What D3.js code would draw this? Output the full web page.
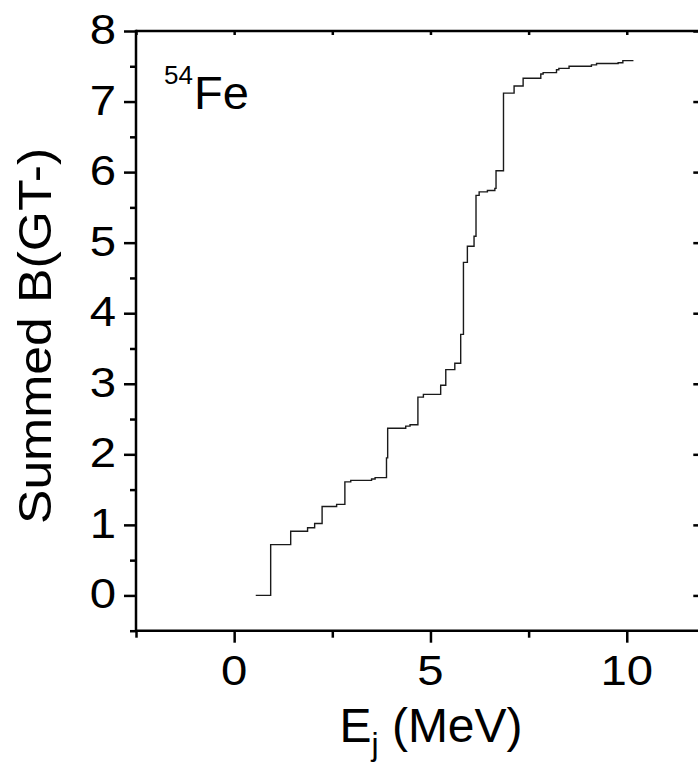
<!DOCTYPE html>
<html>
<head>
<meta charset="utf-8">
<script src="https://cdn.jsdelivr.net/npm/d3@7"></script>
<style>
  html, body { margin: 0; padding: 0; background: #fff; }
  svg { display: block; }
  text { font-family: "Liberation Sans", Arial, Helvetica, sans-serif; fill: #000; }
</style>
</head>
<body>
<svg id="chart" width="698" height="768"></svg>
<script>
// ---- data ----
const energies = [0.55, 0.93, 1.44, 1.87, 2.05, 2.24, 2.61, 2.82, 2.97, 3.50, 3.59, 3.88, 3.91,
  4.37, 4.48, 4.68, 4.82, 5.26, 5.39, 5.62, 5.77, 5.84, 5.94, 6.11, 6.16, 6.24, 6.45, 6.64,
  6.67, 6.86, 7.13, 7.36, 7.81, 7.87, 8.21, 8.27, 8.53, 9.10, 9.23, 9.78, 9.90, 10.17];
const summedB = [0.00, 0.72, 0.91, 0.96, 1.02, 1.26, 1.29, 1.61, 1.63, 1.65, 1.67, 1.95, 2.37,
  2.40, 2.42, 2.81, 2.85, 2.98, 3.20, 3.29, 3.70, 4.72, 4.95, 5.09, 5.67, 5.72, 5.74, 5.77,
  6.02, 7.12, 7.22, 7.33, 7.39, 7.41, 7.45, 7.47, 7.50, 7.52, 7.54, 7.55, 7.58, 7.58];
const xMajorTicks = [0, 5, 10];
const xMinorTicks = [-2.5, 2.5, 7.5];
const xTopTicks = [-2.5, 0, 2.5, 5, 7.5, 10];
const yMajorTicks = [0, 1, 2, 3, 4, 5, 6, 7, 8];
const yMinorTicks = [-0.5, 0.5, 1.5, 2.5, 3.5, 4.5, 5.5, 6.5, 7.5];
const xTitle = "E";
const xTitleSub = "j";
const xTitleRest = " (MeV)";
const yTitle = "Summed B(GT-)";
const nucleusMass = "54";
const nucleusName = "Fe";

// ---- layout ----
const svg = d3.select("#chart");
const x = d3.scaleLinear().domain([-2.5, 12]).range([136, 705.3]);
const y = d3.scaleLinear().domain([-0.5, 8]).range([630.7, 31]);
const AX = 2.5;

const points = energies.map((e, i) => [e, summedB[i]]);

// curve
svg.append("path")
  .datum(points)
  .attr("fill", "none")
  .attr("stroke", "#1a1a1a")
  .attr("stroke-width", 1.4)
  .attr("d", d3.line().x(d => x(d[0])).y(d => y(d[1])).curve(d3.curveStepAfter));

function styleAxis(g) {
  g.select(".domain").remove();
  g.selectAll(".tick line").attr("stroke", "#000").attr("stroke-width", AX);
  g.selectAll(".tick text").remove();
}

// bottom axis
svg.append("g").attr("transform", `translate(0,${y.range()[0]})`)
  .call(d3.axisBottom(x).tickValues(xMajorTicks).tickSize(12)).call(styleAxis);
svg.append("g").attr("transform", `translate(0,${y.range()[0]})`)
  .call(d3.axisBottom(x).tickValues(xMinorTicks).tickSize(7)).call(styleAxis);
// top axis (inward)
svg.append("g").attr("transform", `translate(0,${y.range()[1]})`)
  .call(d3.axisBottom(x).tickValues(xTopTicks).tickSize(4)).call(styleAxis);
// left axis
svg.append("g").attr("transform", `translate(${x.range()[0]},0)`)
  .call(d3.axisLeft(y).tickValues(yMajorTicks).tickSize(12)).call(styleAxis);
svg.append("g").attr("transform", `translate(${x.range()[0]},0)`)
  .call(d3.axisLeft(y).tickValues(yMinorTicks).tickSize(6)).call(styleAxis);
// right axis (inward)
svg.append("g").attr("transform", `translate(${x.range()[1]},0)`)
  .call(d3.axisLeft(y).tickValues(yMajorTicks).tickSize(12)).call(styleAxis);

// frame lines
const [x0, x1] = x.range();
const [yb, yt] = y.range();
svg.append("line").attr("x1", x0).attr("x2", x1 + 2).attr("y1", yb).attr("y2", yb).attr("stroke", "#000").attr("stroke-width", AX);
svg.append("line").attr("x1", x0).attr("x2", x1 + 2).attr("y1", yt).attr("y2", yt).attr("stroke", "#000").attr("stroke-width", AX);
svg.append("line").attr("x1", x0).attr("x2", x0).attr("y1", yt - 1.2).attr("y2", yb + 1.2).attr("stroke", "#000").attr("stroke-width", AX);
svg.append("line").attr("x1", x1).attr("x2", x1).attr("y1", yt - 1.2).attr("y2", yb + 1.2).attr("stroke", "#000").attr("stroke-width", AX);

// tick labels
const SX = 1.1;
svg.append("g").selectAll("text").data(xMajorTicks).join("text")
  .attr("transform", d => `translate(${x(d)},685) scale(${SX},1)`)
  .attr("text-anchor", "middle")
  .attr("font-size", 43)
  .text(d => d);
svg.append("g").selectAll("text").data(yMajorTicks).join("text")
  .attr("transform", d => `translate(116,${y(d) + 13}) scale(${SX},1)`)
  .attr("text-anchor", "end")
  .attr("font-size", 43)
  .text(d => d);

// axis titles
const xt = svg.append("text")
  .attr("transform", `translate(431,742)`)
  .attr("text-anchor", "middle")
  .attr("font-size", 48);
xt.append("tspan").text(xTitle);
xt.append("tspan").attr("font-size", 32).attr("dy", 13).text(xTitleSub);
xt.append("tspan").attr("dy", -13).text(xTitleRest);

svg.append("text")
  .attr("transform", `translate(51,336) rotate(-90) scale(1.1,1)`)
  .attr("text-anchor", "middle")
  .attr("font-size", 47)
  .text(yTitle);

// nucleus label
svg.append("text").attr("x", 164).attr("y", 84).attr("font-size", 26).text(nucleusMass);
svg.append("text").attr("x", 194).attr("y", 109).attr("font-size", 47).text(nucleusName);
</script>
</body>
</html>
